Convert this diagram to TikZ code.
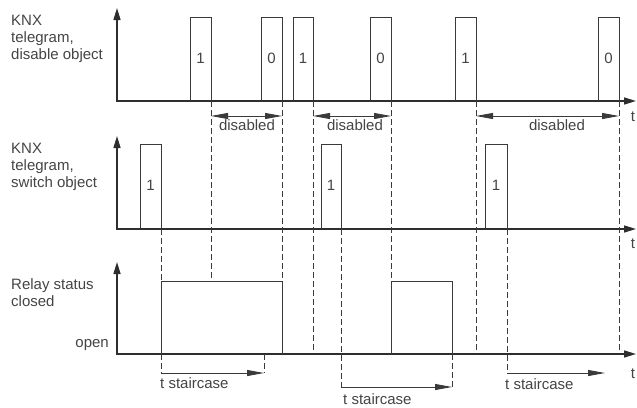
\documentclass[tikz,border=0pt]{standalone}
\usepackage{fontspec}
\setmainfont{Liberation Sans}
\usetikzlibrary{arrows.meta}
\definecolor{axisc}{HTML}{2E2E2E}
\definecolor{linec}{HTML}{3A3A3A}
\definecolor{textc}{HTML}{444444}
\begin{document}
\begin{tikzpicture}[x=1pt,y=-1pt,
  axis/.style={line width=1.5pt, draw=axisc, line join=miter,
    {Triangle[length=12pt,width=7pt]}-{Triangle[length=12pt,width=7pt]}},
  pulse/.style={line width=0.8pt, draw=linec},
  guide/.style={line width=0.8pt, draw=linec, dash pattern=on 6pt off 3pt},
  span/.style={line width=0.8pt, draw=linec, {Triangle[length=17pt,width=6pt]}-{Triangle[length=17pt,width=6pt]}},
  run/.style={line width=0.8pt, draw=linec, -{Triangle[length=17pt,width=6pt]}},
  lbl/.style={font=\fontsize{15}{17}\selectfont, text=textc, inner sep=0pt},
]
\useasboundingbox (0,0) rectangle (637,407);

% labels
\node[lbl, anchor=north west, align=left] (l1) at (11,15) {KNX\\telegram,\\disable object};
\node[lbl, anchor=north west, align=left] (l2) at (11,143) {KNX\\telegram,\\switch object};
\node[lbl, anchor=north west, align=left] (l3) at (11,278) {Relay status\\closed};
\node[lbl, anchor=base east] (lopen) at (109,347) {open};

% axes
\draw[axis] (117,8) -- (117,101) -- (636,101);
\draw[axis] (117,136) -- (117,229) -- (636,229);
\draw[axis] (117,262) -- (117,354) -- (636,354);
\node[lbl, anchor=base] (t1) at (633,121) {t};
\node[lbl, anchor=base] (t2) at (633,248) {t};
\node[lbl, anchor=base] (t3) at (633,378) {t};

% disable object pulses
\foreach \a/\b/\v [count=\i] in {190/211/1, 261/282/0, 293/313/1, 370/391/0, 455/476/1, 598/619/0}{
  \draw[pulse] (\a,101) -- (\a,17) -- (\b,17) -- (\b,101);
  \node[lbl] (d\i) at ({(\a+\b)/2},58) {\v};
}
% switch object pulses
\foreach \a/\b [count=\i] in {140/161, 321/341, 485/507}{
  \draw[pulse] (\a,229) -- (\a,144) -- (\b,144) -- (\b,229);
  \node[lbl] (s\i) at ({(\a+\b)/2},185) {1};
}
% relay status
\draw[pulse] (161,354) -- (161,281) -- (282,281) -- (282,354);
\draw[pulse] (391,354) -- (391,281) -- (452,281) -- (452,354);

% dashed guides
\draw[guide] (211,101) -- (211,281);
\draw[guide] (282,101) -- (282,281);
\draw[guide] (313,101) -- (313,354);
\draw[guide] (391,101) -- (391,281);
\draw[guide] (476,101) -- (476,354);
\draw[guide] (619,101) -- (619,354);
\draw[guide] (161,229) -- (161,281);
\draw[guide] (161,354) -- (161,373);
\draw[guide] (341,229) -- (341,387);
\draw[guide] (507,229) -- (507,373);
\draw[guide] (264,354) -- (264,373);
\draw[guide] (452,354) -- (452,387);

% disabled spans
\draw[span] (211,116) -- (282,116);
\draw[span] (313,116) -- (391,116);
\draw[span] (476,116) -- (619,116);
\node[lbl, anchor=base] (dis1) at (247,130) {disabled};
\node[lbl, anchor=base] (dis2) at (355,130) {disabled};
\node[lbl, anchor=base] (dis3) at (557,130) {disabled};

% staircase
\draw[run] (161,373) -- (264,373);
\draw[run] (341,387) -- (452,387);
\draw[run] (507,373) -- (605,373);
\node[lbl, anchor=base west] (st1) at (160,388) {t staircase};
\node[lbl, anchor=base west] (st2) at (343,404) {t staircase};
\node[lbl, anchor=base west] (st3) at (505,389) {t staircase};
\end{tikzpicture}
\end{document}
